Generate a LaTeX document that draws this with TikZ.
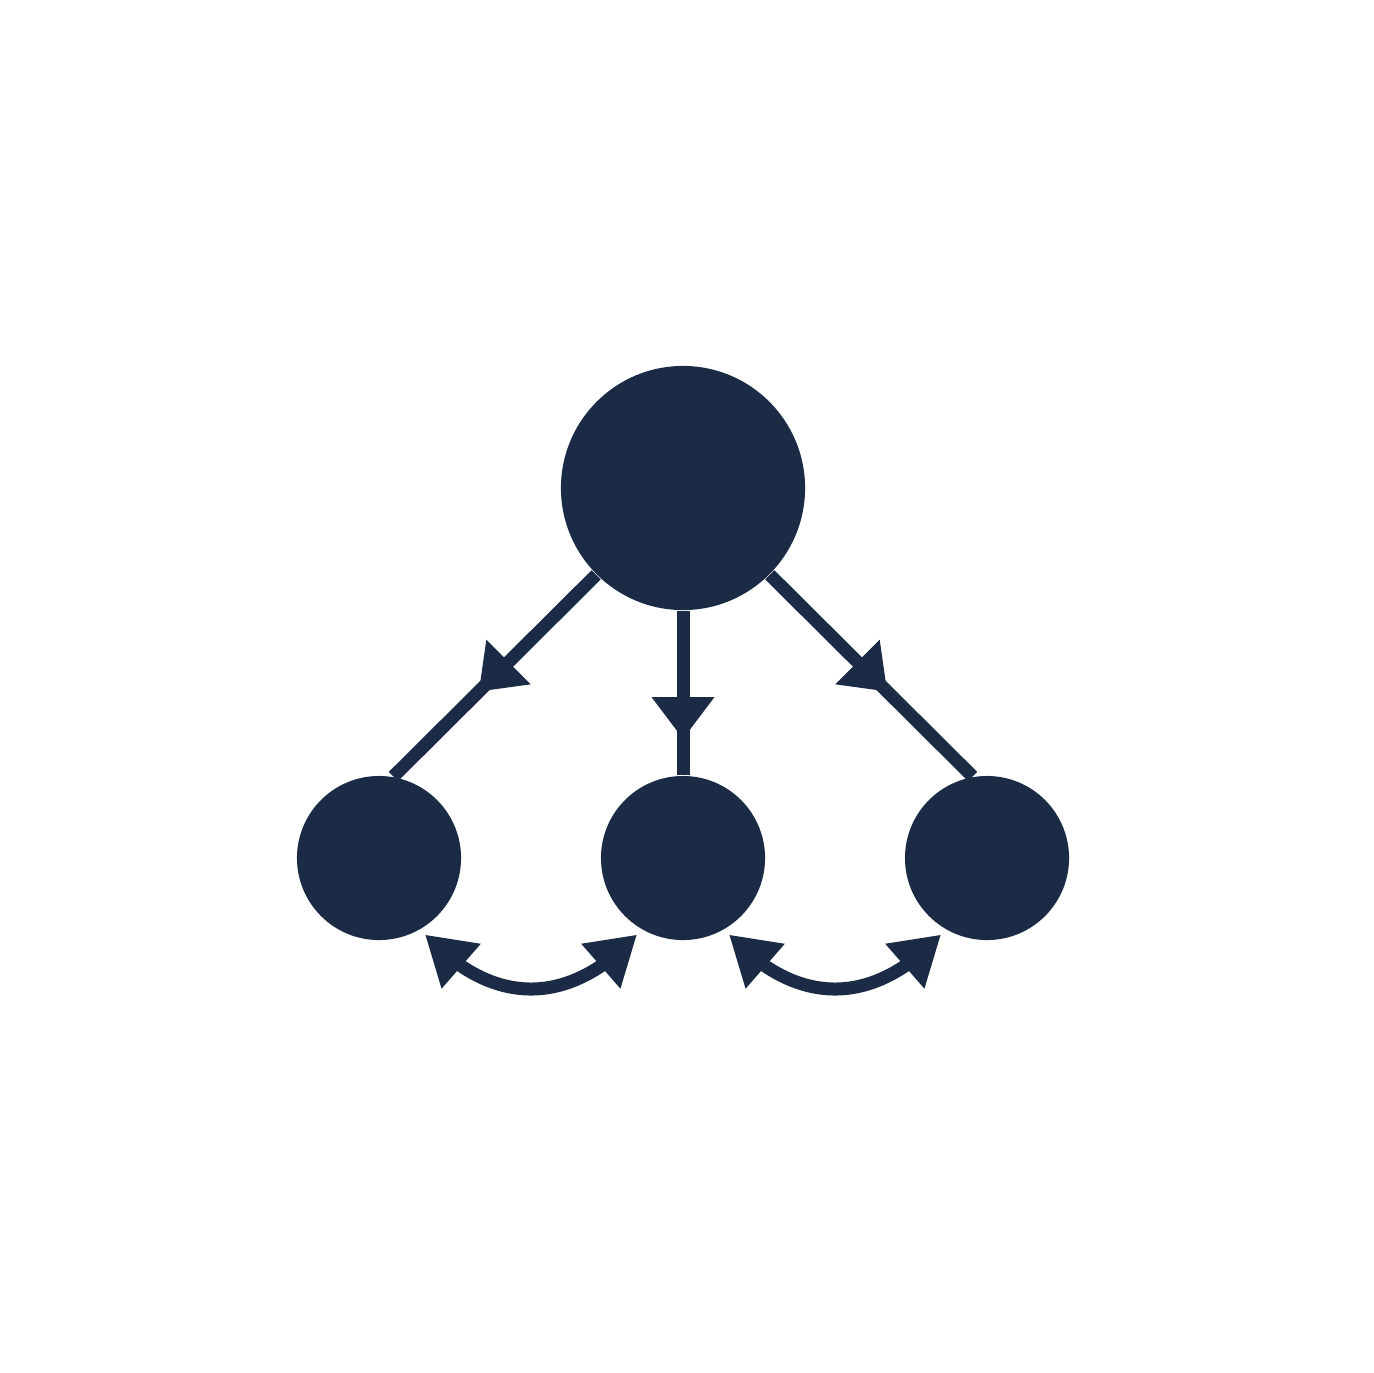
\documentclass[tikz,border=0pt]{standalone}
\usetikzlibrary{arrows.meta,bending,decorations.markings,calc}
\definecolor{navy}{RGB}{27,42,69}
\tikzset{
  dot/.style={circle,fill=navy,inner sep=0pt,minimum size=#1},
  midarrow/.style={line width=0.13cm,navy,postaction={decorate},
    decoration={markings,mark=at position #1 with {\arrow{Triangle[width=0.6cm,length=0.42cm]}}}},
  swap/.style={line width=0.13cm,navy,
    {Triangle[width=0.56cm,length=0.48cm]}-{Triangle[width=0.56cm,length=0.48cm]}}
}
\begin{document}
\begin{tikzpicture}[x=0.01cm,y=-0.01cm]
\useasboundingbox (0,0) rectangle (1374,1372);
\node[dot=2.44cm] (T) at (683,488) {};
\node[dot=1.64cm] (L) at (379,858) {};
\node[dot=1.64cm] (M) at (683,858) {};
\node[dot=1.64cm] (R) at (987,858) {};

\draw[midarrow=0.58] (T.-135) -- (L.80);
\draw[midarrow=0.78] (T.-90) -- (M.north);
\draw[midarrow=0.58] (T.-45) -- (R.100);

\draw[swap] ($(L)!1.08!(L.-59)$) to[bend right=47,looseness=1.2] ($(M)!1.08!(M.-121)$);
\draw[swap] ($(M)!1.08!(M.-59)$) to[bend right=47,looseness=1.2] ($(R)!1.08!(R.-121)$);
\end{tikzpicture}
\end{document}
